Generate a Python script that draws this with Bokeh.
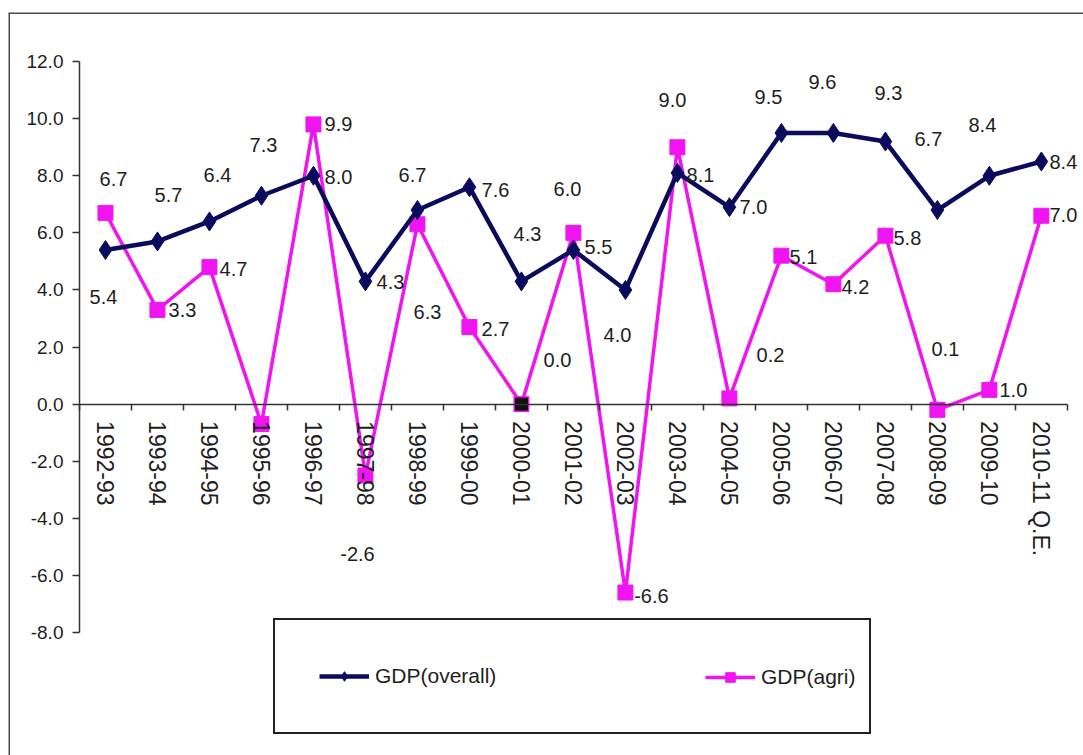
from bokeh.plotting import figure
from bokeh.models import (ColumnDataSource, LinearAxis, FixedTicker, Range1d, Span,
                          Legend, LegendItem, PrintfTickFormatter)
from bokeh.core.properties import value
from bokeh.embed import file_html
from bokeh.resources import INLINE

# ---------------- data ----------------
years = ["1992-93", "1993-94", "1994-95", "1995-96", "1996-97", "1997-98", "1998-99",
         "1999-00", "2000-01", "2001-02", "2002-03", "2003-04", "2004-05", "2005-06",
         "2006-07", "2007-08", "2008-09", "2009-10", "2010-11 Q.E."]
gdp_overall = [5.4, 5.7, 6.4, 7.3, 8.0, 4.3, 6.8, 7.6, 4.3, 5.4, 4.0, 8.1, 6.9, 9.5,
               9.5, 9.2, 6.8, 8.0, 8.5]
gdp_agri = [6.7, 3.3, 4.8, -0.7, 9.8, -2.5, 6.3, 2.7, 0.0, 6.0, -6.6, 9.0, 0.2, 5.2,
            4.2, 5.9, -0.2, 0.5, 6.6]
overall_labels = ["5.4", "5.7", "6.4", "7.3", "8.0", "4.3", "6.7", "7.6", "4.3", "5.5",
                  "4.0", "8.1", "7.0", "9.5", "9.6", "9.3", "6.7", "8.4", "8.4"]
agri_labels = ["6.7", "3.3", "4.7", "", "9.9", "-2.6", "6.3", "2.7", "0.0", "6.0",
               "-6.6", "9.0", "0.2", "5.1", "4.2", "5.8", "0.1", "1.0", "7.0"]
y_ticks = [-8, -6, -4, -2, 0, 2, 4, 6, 8, 10, 12]

# ---------------- label placement (screen pixels, relative to point; +y is down) ----------------
overall_dx = [-2, 11, 8, 2, 25, 25, -5, 26, 6, 25, -8, 23, 24, -13, -11, 3, -9, -7, 22]
overall_dy = [47, -46, -46, -51, 1, 1, -35, 3, -47, -3, 45, 2, 0, -36, -51, -49, -71, -51, 1]
agri_dx = [8, 25, 24, 0, 25, -8, 10, 26, 36, -6, 26, -5, 41, 22, 22, 22, 8, 24, 22]
agri_dy = [-34, 0, 2, 0, 0, 79, 88, 2, -44, -44, 3, -47, -43, 1, 3, 2, -61, 0, -1]

xs = [i + 0.5 for i in range(len(years))]
n = len(years)

NAVY = "#0b0b5e"
MAG = "#f015f0"
TXT = "#1e1e1e"
FONT = "Liberation Sans"

y_start, y_end = -12.31, 13.72
x_start, x_end = -1.365, 19.31

p = figure(width=1083, height=755, output_backend="svg", toolbar_location=None,
           x_axis_type=None, y_axis_type=None,
           x_range=Range1d(x_start, x_end), y_range=Range1d(y_start, y_end),
           min_border_left=8, min_border_top=12, min_border_right=0, min_border_bottom=0)
p.outline_line_color = None
p.xgrid.visible = False
p.ygrid.visible = False
p.background_fill_color = "white"
p.border_fill_color = "white"

# outer frame lines (top and left, as in the source image)
p.add_layout(Span(location=y_end, dimension="width", line_color="#4a4a4a", line_width=3))
p.add_layout(Span(location=x_start, dimension="height", line_color="#4a4a4a", line_width=3))

# y axis
yax = LinearAxis(ticker=FixedTicker(ticks=y_ticks), formatter=PrintfTickFormatter(format="%.1f"),
                 fixed_location=0, bounds=(-8, 12))
yax.axis_line_color = "#333333"
yax.axis_line_width = 1.5
yax.major_tick_line_color = "#333333"
yax.major_tick_line_width = 1.5
yax.major_tick_out = 7
yax.major_tick_in = 0
yax.minor_tick_line_color = None
yax.major_label_standoff = 9
yax.major_label_text_font = FONT
yax.major_label_text_font_size = "19px"
yax.major_label_text_color = TXT
p.add_layout(yax, "left")

# x axis: line and ticks at category boundaries
xax = LinearAxis(ticker=FixedTicker(ticks=list(range(n + 1))), fixed_location=0, bounds=(0, n))
xax.axis_line_color = "#333333"
xax.axis_line_width = 1.5
xax.major_tick_line_color = "#333333"
xax.major_tick_line_width = 1.5
xax.major_tick_out = 6
xax.major_tick_in = 0
xax.minor_tick_line_color = None
xax.major_label_text_alpha = 0
xax.major_label_text_font_size = "1px"
p.add_layout(xax, "below")

# x axis: category labels at category centers
xlab = LinearAxis(ticker=FixedTicker(ticks=xs), fixed_location=0,
                  major_label_overrides={x: y for x, y in zip(xs, years)})
xlab.axis_line_color = None
xlab.major_tick_line_color = None
xlab.minor_tick_line_color = None
xlab.major_label_orientation = "vertical"
xlab.major_label_standoff = 11
xlab.major_label_text_font = FONT
xlab.major_label_text_font_size = "23px"
xlab.major_label_text_color = TXT
p.add_layout(xlab, "below")

src = ColumnDataSource(dict(x=xs, o=gdp_overall, a=gdp_agri, ol=overall_labels, al=agri_labels,
                            odx=overall_dx, ody=overall_dy, adx=agri_dx, ady=agri_dy))
zero_idx = [i for i, v in enumerate(gdp_agri) if v == 0]
zsrc = ColumnDataSource(dict(x=[xs[i] for i in zero_idx], a=[gdp_agri[i] for i in zero_idx]))

la = p.line("x", "a", source=src, line_color=MAG, line_width=3.5)
sa = p.scatter("x", "a", source=src, marker="square", size=15, fill_color=MAG, line_color=MAG)
p.scatter("x", "a", source=zsrc, marker="square", size=12, fill_color="#111111", line_color="#111111")
lo = p.line("x", "o", source=src, line_color=NAVY, line_width=4.5)
so = p.scatter("x", "o", source=src, marker="diamond", size=19, fill_color=NAVY, line_color=NAVY)

p.text("x", "o", text="ol", source=src, x_offset="odx", y_offset="ody",
       text_font=value(FONT), text_font_size="20px", text_color=TXT,
       text_align="center", text_baseline="middle")
p.text("x", "a", text="al", source=src, x_offset="adx", y_offset="ady",
       text_font=value(FONT), text_font_size="20px", text_color=TXT,
       text_align="center", text_baseline="middle")

leg1 = Legend(items=[LegendItem(label="GDP(overall)", renderers=[lo, so])],
              location=(265, 21), margin=0, padding=44, orientation="horizontal",
              glyph_width=50, glyph_height=24, label_standoff=6, label_width=450,
              label_text_font=FONT, label_text_font_size="21px", label_text_color=TXT,
              border_line_color="#222222", border_line_width=2, border_line_alpha=1,
              background_fill_alpha=1)
leg2 = Legend(items=[LegendItem(label="GDP(agri)", renderers=[la, sa])],
              location=(697, 66), margin=0, padding=0, orientation="horizontal",
              glyph_width=50, glyph_height=24, label_standoff=6,
              label_text_font=FONT, label_text_font_size="21px", label_text_color=TXT,
              border_line_color=None, background_fill_alpha=0)
p.add_layout(leg1, "center")
p.add_layout(leg2, "center")

open("out.html", "w").write(file_html(p, INLINE))
